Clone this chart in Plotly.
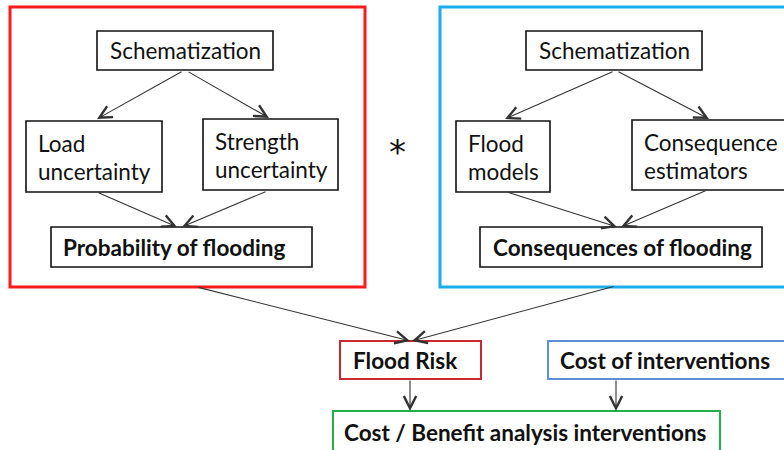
import plotly.graph_objects as go

# ---- content (text labels) ----
left_top = "Schematization"
left_mid = [["Load", "uncertainty"], ["Strength", "uncertainty"]]
left_bottom = "Probability of flooding"
right_top = "Schematization"
right_mid = [["Flood", "models"], ["Consequence", "estimators"]]
right_bottom = "Consequences of flooding"
combine_symbol = "*"
risk_label = "Flood Risk"
cost_label = "Cost of interventions"
cba_label = "Cost / Benefit analysis interventions"

# ---- layout geometry (pixel coordinates, y downward) ----
W, H = 784, 450
FONT = "Lato, 'DejaVu Sans', sans-serif"
FS = 22.5

fig = go.Figure()
shapes = []
ann = []

def box(x0, y0, x1, y1, color="#111111", width=1.6, fill="white"):
    shapes.append(dict(type="rect", xref="x", yref="y", x0=x0, y0=y0, x1=x1, y1=y1,
                       line=dict(color=color, width=width), fillcolor=fill, layer="above"))

def text(x, y, s, anchor="left", bold=False, size=FS, family=FONT):
    ann.append(dict(x=x, y=y, xref="x", yref="y", text=("<b>%s</b>" % s) if bold else s,
                    showarrow=False, xanchor=anchor, yanchor="middle",
                    font=dict(family=family, size=size, color="#111111")))

def arrow(x0, y0, x1, y1):
    ann.append(dict(x=x1, y=y1, ax=x0, ay=y0, xref="x", yref="y", axref="x", ayref="y",
                    text="", showarrow=True, arrowhead=5, arrowsize=2.2, arrowwidth=1.1,
                    arrowcolor="#333333", standoff=0, startstandoff=0))

# outer frames
box(10, 7, 365, 287, color="#ff1a1a", width=3, fill="rgba(0,0,0,0)")
box(440, 7, 800, 287, color="#1aaee8", width=3, fill="rgba(0,0,0,0)")

# left group
box(97, 31, 273, 70)
text(185, 50, left_top, "center")
box(26, 121, 162, 192)
text(36, 143, left_mid[0][0]); text(36, 171, left_mid[0][1])
box(203, 119, 338, 190)
text(213, 141, left_mid[1][0]); text(213, 169, left_mid[1][1])
box(51, 227, 312, 267)
text(61, 247, left_bottom, bold=True)
arrow(183, 71, 97, 119)
arrow(187, 71, 269, 118)
arrow(97, 192, 177, 227)
arrow(267, 191, 182, 227)

# star
text(397, 152, combine_symbol, "center", size=34, family="DejaVu Sans")

# right group
box(526, 31, 702, 70)
text(614, 50, right_top, "center")
box(456, 121, 550, 192)
text(466, 143, right_mid[0][0]); text(466, 171, right_mid[0][1])
box(632, 120, 800, 190)
text(642, 142, right_mid[1][0]); text(642, 170, right_mid[1][1])
box(480, 227, 762, 267)
text(491, 247, right_bottom, bold=True)
arrow(614, 71, 505, 119)
arrow(617, 71, 709, 119)
arrow(507, 192, 617, 227)
arrow(707, 190, 621, 227)

# bottom
box(340, 341, 481, 379, color="#c8282e", width=2)
text(351, 360, risk_label, bold=True)
box(548, 341, 800, 379, color="#5b8fd8", width=2)
text(558, 360, cost_label, bold=True)
box(333, 411, 720, 470, color="#22b04b", width=2)
text(342, 432, cba_label, bold=True)
arrow(197, 287, 410, 341)
arrow(615, 286, 412, 341)
arrow(410, 379, 410, 411)
arrow(616, 379, 616, 411)

fig.update_layout(
    width=W, height=H, margin=dict(l=0, r=0, t=0, b=0),
    paper_bgcolor="white", plot_bgcolor="white",
    xaxis=dict(range=[0, W], visible=False, fixedrange=True),
    yaxis=dict(range=[H, 0], visible=False, fixedrange=True),
    shapes=shapes, annotations=ann, showlegend=False,
)
fig.write_html("out.html", config={"displayModeBar": False},
               post_script="document.body.style.margin='0';document.body.style.overflow='hidden';")
